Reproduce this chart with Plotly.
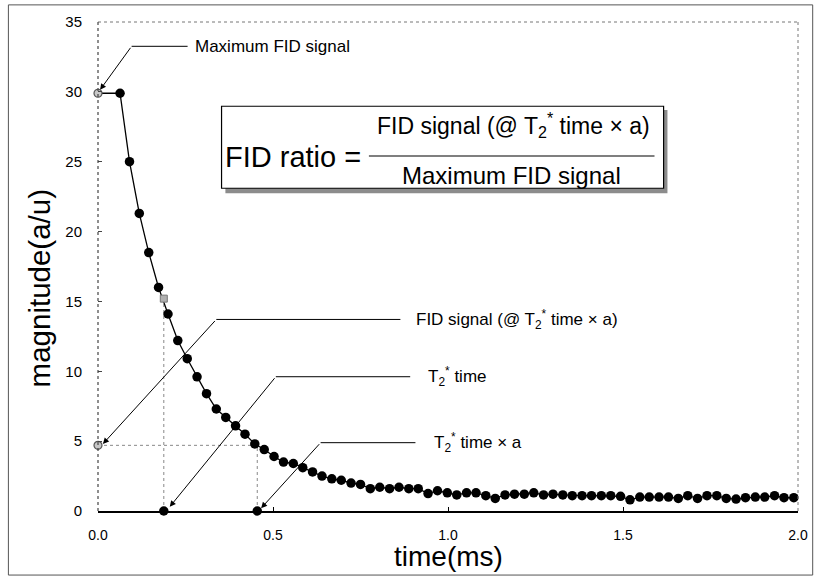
import plotly.graph_objects as go

# ---------------- data ----------------
time_ms = [0.063, 0.090, 0.118, 0.145, 0.173, 0.200, 0.228, 0.255, 0.283, 0.310,
           0.338, 0.365, 0.393, 0.420, 0.448, 0.475, 0.503, 0.530, 0.558, 0.585,
           0.613, 0.640, 0.668, 0.695, 0.723, 0.750, 0.778, 0.805, 0.833, 0.860,
           0.888, 0.915, 0.943, 0.970, 0.998, 1.025, 1.053, 1.080, 1.108, 1.135,
           1.163, 1.190, 1.218, 1.245, 1.273, 1.300, 1.328, 1.355, 1.383, 1.410,
           1.438, 1.465, 1.493, 1.520, 1.548, 1.575, 1.603, 1.630, 1.658, 1.685,
           1.713, 1.740, 1.768, 1.795, 1.823, 1.850, 1.878, 1.905, 1.933, 1.960,
           1.988]
magnitude = [29.9, 25.0, 21.3, 18.5, 16.0, 14.1, 12.2, 10.9, 9.6, 8.4,
             7.3, 6.7, 6.1, 5.5, 4.8, 4.4, 3.9, 3.5, 3.4, 3.1,
             2.8, 2.5, 2.3, 2.2, 2.0, 1.9, 1.6, 1.7, 1.6, 1.7,
             1.6, 1.6, 1.25, 1.45, 1.3, 1.15, 1.3, 1.3, 1.1, 0.9,
             1.15, 1.2, 1.2, 1.3, 1.15, 1.2, 1.15, 1.1, 1.1, 1.1,
             1.1, 1.1, 1.05, 0.8, 1.0, 1.0, 1.0, 1.0, 0.9, 1.1,
             0.9, 1.1, 1.1, 0.9, 0.85, 0.95, 1.0, 1.0, 1.1, 0.95,
             0.95]

max_fid_time = 0.0
max_fid = 29.9
t2_time = 0.188
fid_at_t2 = 15.2
t2a_time = 0.455
fid_at_t2a = 4.7

x_ticks = [0.0, 0.5, 1.0, 1.5, 2.0]
x_tick_labels = ["0.0", "0.5", "1.0", "1.5", "2.0"]
y_ticks = [0, 5, 10, 15, 20, 25, 30, 35]

FONT = "Liberation Sans, Arial, sans-serif"

fig = go.Figure()

# main FID curve (starts at the maximum point at t = 0)
fig.add_trace(go.Scatter(
    x=[max_fid_time] + time_ms, y=[max_fid] + magnitude,
    mode="lines", line=dict(color="black", width=1.3),
    hoverinfo="skip", showlegend=False))
fig.add_trace(go.Scatter(
    x=time_ms, y=magnitude, mode="markers",
    marker=dict(color="black", size=9.5),
    showlegend=False, cliponaxis=False))

# gray reference markers
fig.add_trace(go.Scatter(
    x=[max_fid_time, max_fid_time], y=[max_fid, fid_at_t2a], mode="markers",
    marker=dict(color="#c8c8c8", size=8, symbol="circle",
                line=dict(color="#555555", width=1.2)),
    showlegend=False, cliponaxis=False))
fig.add_trace(go.Scatter(
    x=[t2_time], y=[fid_at_t2], mode="markers",
    marker=dict(color="#b0b0b0", size=7, symbol="square",
                line=dict(color="#777777", width=1)),
    showlegend=False, cliponaxis=False))
# time markers on the axis
fig.add_trace(go.Scatter(
    x=[t2_time, t2a_time], y=[0, 0], mode="markers",
    marker=dict(color="black", size=9.5),
    showlegend=False, cliponaxis=False))

shapes = []
# dotted guide lines
guide = dict(color="#888888", width=1, dash="dot")
shapes.append(dict(type="line", x0=t2_time, x1=t2_time, y0=0, y1=fid_at_t2, line=guide, layer="below"))
shapes.append(dict(type="line", x0=0, x1=t2a_time, y0=fid_at_t2a, y1=fid_at_t2a, line=guide, layer="below"))
shapes.append(dict(type="line", x0=t2a_time, x1=t2a_time, y0=0, y1=fid_at_t2a, line=guide, layer="below"))

# plot frame: top and right dotted, left dotted dark
shapes.append(dict(type="line", xref="paper", yref="paper", x0=0, x1=1, y0=1, y1=1,
                   line=dict(color="#777777", width=1, dash="dot")))
shapes.append(dict(type="line", xref="paper", yref="paper", x0=1, x1=1, y0=0, y1=1,
                   line=dict(color="#777777", width=1, dash="dot")))
shapes.append(dict(type="line", xref="paper", yref="paper", x0=0, x1=0, y0=0, y1=1,
                   line=dict(color="#444444", width=1.2, dash="dot")))
# outer border of the picture
shapes.append(dict(type="rect", xref="paper", yref="paper",
                   x0=-0.128, x1=1.021, y0=-0.131, y1=1.035,
                   line=dict(color="#555555", width=1)))

# formula box with shadow
shapes.append(dict(type="rect", x0=0.364, x1=1.627, y0=22.75, y1=28.7,
                   line=dict(width=0), fillcolor="#8c8c8c"))
shapes.append(dict(type="rect", x0=0.353, x1=1.616, y0=23.1, y1=28.97,
                   line=dict(color="black", width=1.2), fillcolor="white"))
shapes.append(dict(type="line", x0=0.774, x1=1.590, y0=25.41, y1=25.41,
                   line=dict(color="black", width=1.2)))

# leader lines (horizontal parts)
lead = dict(color="black", width=1)
leaders = [
    (0.096, 0.256, 33.26),
    (0.338, 0.864, 13.71),
    (0.508, 0.892, 9.61),
    (0.636, 0.907, 4.89),
]
for x0, x1, y in leaders:
    shapes.append(dict(type="line", x0=x0, x1=x1, y0=y, y1=y, line=lead))

annotations = []
# diagonal arrows
arrows = [
    (0.096, 33.26, max_fid_time + 0.006, max_fid + 0.25),
    (0.338, 13.71, max_fid_time + 0.014, fid_at_t2a + 0.1),
    (0.508, 9.61, t2_time + 0.017, 0.3),
    (0.636, 4.89, t2a_time + 0.011, 0.2),
]
for ax, ay, x, y in arrows:
    annotations.append(dict(x=x, y=y, ax=ax, ay=ay, xref="x", yref="y",
                            axref="x", ayref="y", text="", showarrow=True,
                            arrowhead=2, arrowsize=1.2, arrowwidth=1,
                            arrowcolor="black", standoff=0))

label_font = dict(family=FONT, size=17, color="black")
labels = [
    (0.270, 33.26, "Maximum FID signal"),
    (0.904, 13.71, "FID signal (@ T<sub>2</sub><sup>*</sup> time × a)"),
    (0.936, 9.61, "T<sub>2</sub><sup>*</sup> time"),
    (0.953, 4.89, "T<sub>2</sub><sup>*</sup> time × a"),
]
for x, y, t in labels:
    annotations.append(dict(x=x, y=y, xref="x", yref="y", text=t, showarrow=False,
                            xanchor="left", yanchor="middle", font=label_font))

# formula text
annotations.append(dict(x=0.358, y=25.34, xref="x", yref="y", text="FID ratio =",
                        showarrow=False, xanchor="left", yanchor="middle",
                        font=dict(family=FONT, size=29, color="black")))
annotations.append(dict(x=1.186, y=27.6, xref="x", yref="y",
                        text="FID signal (@ T<sub>2</sub><sup>*</sup> time × a)",
                        showarrow=False, xanchor="center", yanchor="middle",
                        font=dict(family=FONT, size=23, color="black")))
annotations.append(dict(x=1.180, y=24.0, xref="x", yref="y",
                        text="Maximum FID signal",
                        showarrow=False, xanchor="center", yanchor="middle",
                        font=dict(family=FONT, size=24, color="black")))

# axis titles
annotations.append(dict(x=0.5, y=-0.094, xref="paper", yref="paper", text="time(ms)",
                        showarrow=False, xanchor="center", yanchor="middle",
                        font=dict(family=FONT, size=28, color="black")))
annotations.append(dict(x=-0.083, y=0.455, xref="paper", yref="paper",
                        text="magnitude(a/u)", textangle=-90,
                        showarrow=False, xanchor="center", yanchor="middle",
                        font=dict(family=FONT, size=29.5, color="black")))

fig.update_layout(
    width=820, height=579,
    margin=dict(l=98, r=19, t=22, b=68),
    paper_bgcolor="white", plot_bgcolor="white",
    shapes=shapes, annotations=annotations,
    font=dict(family=FONT, color="black"),
    showlegend=False,
)
fig.update_xaxes(range=[0, 2], tickvals=x_ticks, ticktext=x_tick_labels,
                 ticks="inside", ticklen=4, tickcolor="black",
                 showline=True, linecolor="black", linewidth=1.5,
                 showgrid=False, zeroline=False,
                 tickfont=dict(family=FONT, size=14), ticklabelstandoff=10)
fig.update_yaxes(range=[0, 35], tickvals=y_ticks,
                 ticks="inside", ticklen=4, tickcolor="#444444",
                 showline=False, showgrid=False, zeroline=False,
                 tickfont=dict(family=FONT, size=15), ticklabelstandoff=15)

fig.write_html("out.html", config={"displayModeBar": False},
               post_script="document.body.style.margin='0';document.body.style.overflow='hidden';")
